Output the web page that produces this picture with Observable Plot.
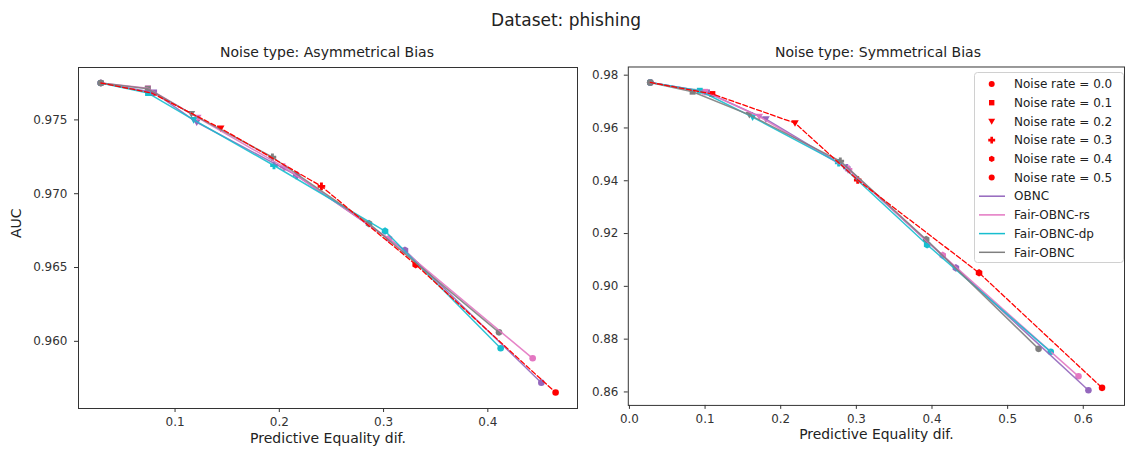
<!DOCTYPE html>
<html><head><meta charset="utf-8">
<script src="https://cdn.jsdelivr.net/npm/d3@7"></script>
<script src="https://cdn.jsdelivr.net/npm/@observablehq/plot@0.6"></script>
<style>
body{margin:0;background:#fff;overflow:hidden;font-family:"DejaVu Sans",sans-serif;}
#root{position:relative;width:1126px;height:450px;overflow:hidden;background:#fff;}
.t{position:absolute;transform:translate(-50%,-50%);white-space:nowrap;color:#222;}
#left,#right{position:absolute;top:0;}
#left{left:0px}
#right{left:600px}
</style></head><body>
<div id="root">
<div id="left"></div><div id="right"></div>
<div class="t" style="left:566px;top:20px;font-size:17px">Dataset: phishing</div>
<div class="t" style="left:327px;top:52px;font-size:14px">Noise type: Asymmetrical Bias</div>
<div class="t" style="left:878px;top:52px;font-size:14px">Noise type: Symmetrical Bias</div>
<div id="legend"></div>
</div>
<script>
// ---------- data ----------
const noiseRates = [0.0, 0.1, 0.2, 0.3, 0.4, 0.5];
const seriesNames = ["Baseline", "OBNC", "Fair-OBNC-rs", "Fair-OBNC-dp", "Fair-OBNC"];

// Asymmetrical Bias
const asymBaselineX = [0.0288, 0.0777, 0.1438, 0.2404, 0.3308, 0.4650];
const asymBaselineY = [0.97750, 0.97682, 0.97443, 0.97050, 0.96520, 0.95653];
const asymObncX     = [0.0288, 0.0799, 0.1208, 0.2167, 0.3205, 0.4513];
const asymObncY     = [0.97750, 0.97686, 0.97484, 0.97124, 0.96617, 0.95720];
const asymRsX       = [0.0288, 0.0741, 0.1218, 0.2045, 0.3052, 0.4430];
const asymRsY       = [0.97750, 0.97714, 0.97516, 0.97180, 0.96696, 0.95885];
const asymDpX       = [0.0288, 0.0741, 0.1179, 0.1949, 0.3014, 0.4123];
const asymDpY       = [0.97750, 0.97682, 0.97500, 0.97191, 0.96747, 0.95953];
const asymFairX     = [0.0288, 0.0738, 0.1157, 0.1934, 0.2860, 0.4107];
const asymFairY     = [0.97750, 0.97711, 0.97541, 0.97247, 0.96797, 0.96061];

// Symmetrical Bias
const symBaselineX = [0.0275, 0.1097, 0.2189, 0.3018, 0.4622, 0.6248];
const symBaselineY = [0.97726, 0.97286, 0.96186, 0.94029, 0.90513, 0.86155];
const symObncX     = [0.0275, 0.1026, 0.1805, 0.2874, 0.4316, 0.6068];
const symObncY     = [0.97726, 0.97350, 0.96336, 0.94495, 0.90700, 0.86065];
const symRsX       = [0.0275, 0.1000, 0.1717, 0.2897, 0.4142, 0.5937];
const symRsY       = [0.97726, 0.97370, 0.96433, 0.94431, 0.91174, 0.86591];
const symDpX       = [0.0275, 0.0930, 0.1629, 0.2766, 0.3936, 0.5570];
const symDpY       = [0.97726, 0.97410, 0.96411, 0.94680, 0.91576, 0.87519];
const symFairX     = [0.0275, 0.0835, 0.1586, 0.2788, 0.3923, 0.5409];
const symFairY     = [0.97726, 0.97373, 0.96497, 0.94743, 0.91776, 0.87632];

// tick labels
const leftXTicks = [0.1, 0.2, 0.3, 0.4];
const leftYTicks = [0.960, 0.965, 0.970, 0.975];
const rightXTicks = [0.0, 0.1, 0.2, 0.3, 0.4, 0.5, 0.6];
const rightYTicks = [0.86, 0.88, 0.90, 0.92, 0.94, 0.96, 0.98];

// ---------- styles ----------
const seriesColors = ["#ff0000", "#9467bd", "#e377c2", "#17becf", "#7f7f7f"];
const triDown = {draw(c, size){ const r = Math.sqrt(size/Math.PI)*1.15; c.moveTo(-r,-r*0.75); c.lineTo(r,-r*0.75); c.lineTo(0,r); c.closePath(); }};
const plusFilled = {draw(c, size){ const r = Math.sqrt(size/Math.PI)*1.15, a = r*0.38;
  c.moveTo(-a,-r); c.lineTo(a,-r); c.lineTo(a,-a); c.lineTo(r,-a); c.lineTo(r,a); c.lineTo(a,a);
  c.lineTo(a,r); c.lineTo(-a,r); c.lineTo(-a,a); c.lineTo(-r,a); c.lineTo(-r,-a); c.lineTo(-a,-a); c.closePath(); }};
const squareSym = {draw(c, size){ const r = Math.sqrt(size/Math.PI)*0.9; c.rect(-r,-r,2*r,2*r); }};
const markerShapes = ["circle", squareSym, triDown, plusFilled, "hexagon", "circle"];

function buildRows(xsList, ysList){
  const rows = [];
  seriesNames.forEach((s, si) => {
    noiseRates.forEach((rate, i) => rows.push({series: s, rate, x: xsList[si][i], y: ysList[si][i]}));
  });
  return rows;
}
const asymRows = buildRows([asymBaselineX, asymObncX, asymRsX, asymDpX, asymFairX],
                           [asymBaselineY, asymObncY, asymRsY, asymDpY, asymFairY]);
const symRows = buildRows([symBaselineX, symObncX, symRsX, symDpX, symFairX],
                          [symBaselineY, symObncY, symRsY, symDpY, symFairY]);

function panel(rows, opts){
  const dots = noiseRates.map((rate, i) =>
    Plot.dot(rows.filter(d => d.rate === rate), {x: "x", y: "y", fill: "series", r: 3.3, symbol: markerShapes[i]}));
  const methodRows = rows.filter(d => d.series !== "Baseline");
  const baseRows = rows.filter(d => d.series === "Baseline");
  const marks = [
    Plot.frame({stroke: "#333", strokeWidth: 1}),
    Plot.axisX({ticks: opts.xTicks, tickFormat: d3.format(".1f"), tickSize: 4, tickPadding: 5, label: null}),
    Plot.axisY({ticks: opts.yTicks, tickFormat: d3.format(opts.yFmt), tickSize: 4, tickPadding: opts.yPad, label: null}),
    ...dots,
    Plot.line(methodRows, {x: "x", y: "y", z: "series", stroke: "series", strokeWidth: 1.5, strokeOpacity: 0.9}),
    Plot.line(baseRows, {x: "x", y: "y", stroke: "series", strokeWidth: 1.3, strokeDasharray: "5,2.4"}),
    Plot.text(["Predictive Equality dif."], {text: d => d, frameAnchor: "bottom", dy: 34, fontSize: 14, fill: "#222"})
  ];
  if (opts.yLabel) marks.push(Plot.text([opts.yLabel], {text: d => d, frameAnchor: "left", dx: -62, rotate: -90, fontSize: 14, fill: "#222"}));
  return Plot.plot({
    width: opts.width, height: 450,
    marginLeft: opts.ml, marginRight: opts.mr, marginTop: 67, marginBottom: 42,
    x: {domain: opts.xDomain},
    y: {domain: opts.yDomain},
    color: {domain: seriesNames, range: seriesColors},
    style: {fontFamily: "DejaVu Sans", fontSize: "12px", color: "#333", background: "transparent", overflow: "visible"},
    marks
  });
}

document.getElementById("left").append(panel(asymRows, {
  width: 600, ml: 78, mr: 23, xDomain: [0.0074, 0.486], yDomain: [0.95545, 0.97855],
  xTicks: leftXTicks, yTicks: leftYTicks, yFmt: ".3f", yPad: 7, yLabel: "AUC"
}));
document.getElementById("right").append(panel(symRows, {
  width: 530, ml: 28, mr: 2, xDomain: [-0.0015, 0.6545], yDomain: [0.8549, 0.9831],
  xTicks: rightXTicks, yTicks: rightYTicks, yFmt: ".2f", yPad: 6, yLabel: null
}));

// ---------- legend ----------
const lg = d3.select("#legend").append("svg")
  .attr("width", 151).attr("height", 192)
  .style("position", "absolute").style("left", "974px").style("top", "72px")
  .style("font-family", "DejaVu Sans").style("font-size", "12px");
lg.append("rect").attr("x", 0.5).attr("y", 0.5).attr("width", 149).attr("height", 190).attr("rx", 3)
  .attr("fill", "rgba(255,255,255,0.85)").attr("stroke", "#d0d0d0");
const legendItems = [
  ...noiseRates.map((r, i) => ({label: `Noise rate = ${r.toFixed(1)}`, shape: markerShapes[i]})),
  ...seriesNames.slice(1).map((s, i) => ({label: s, color: seriesColors[i + 1]}))
];
const symbolMap = {circle: d3.symbolCircle, hexagon: {draw(c, size){ const r = Math.sqrt(size/Math.PI)*1.05; for (let k=0;k<6;k++){ const a = Math.PI/3*k - Math.PI/2; k? c.lineTo(r*Math.cos(a), r*Math.sin(a)) : c.moveTo(r*Math.cos(a), r*Math.sin(a)); } c.closePath(); }}};
legendItems.forEach((it, i) => {
  const cy = 12 + i * 18.7;
  if (it.shape) {
    const type = typeof it.shape === "string" ? symbolMap[it.shape] : it.shape;
    lg.append("path").attr("transform", `translate(17.7,${cy})`)
      .attr("d", d3.symbol(type, Math.PI * 3 * 3)()).attr("fill", "#ff0000");
  } else {
    lg.append("line").attr("x1", 5).attr("x2", 31).attr("y1", cy).attr("y2", cy)
      .attr("stroke", it.color).attr("stroke-width", 1.5);
  }
  lg.append("text").attr("x", 40).attr("y", cy).attr("dy", "0.35em").attr("fill", "#222").text(it.label);
});
</script>
</body></html>
